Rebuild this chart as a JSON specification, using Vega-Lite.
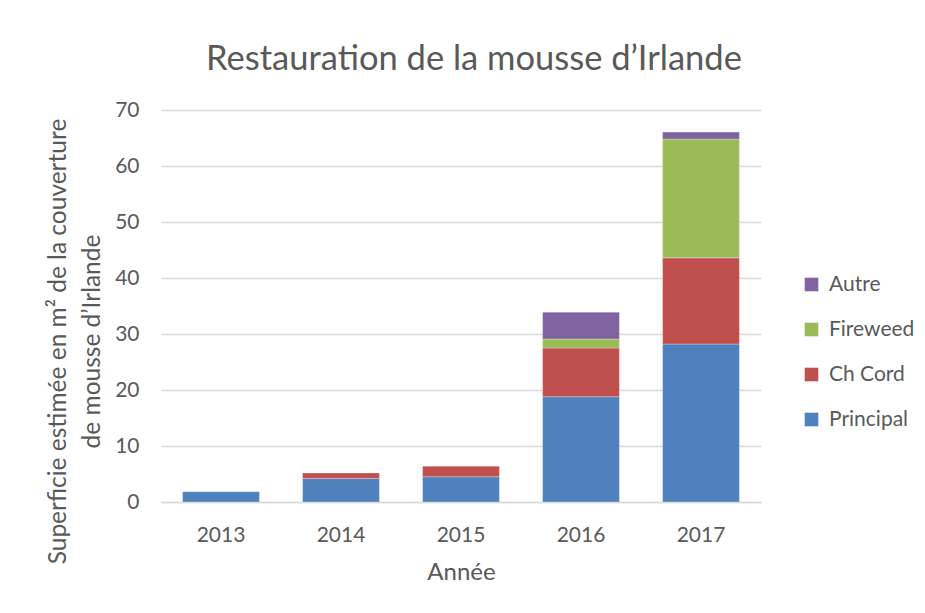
{
  "$schema": "https://vega.github.io/schema/vega-lite/v6.json",
  "autosize": "none",
  "width": 600,
  "height": 392,
  "padding": {"left": 161, "top": 110, "right": 164, "bottom": 111},
  "background": "white",
  "title": {
    "text": "Restauration de la mousse d’Irlande",
    "font": "Lato",
    "fontSize": 34.5,
    "fontWeight": "normal",
    "color": "#595959",
    "anchor": "middle",
    "frame": "group",
    "baseline": "alphabetic",
    "offset": -5,
    "dx": 13
  },
  "data": {
    "values": [
      {"annee": "2013", "serie": "Principal", "valeur": 1.85},
      {"annee": "2014", "serie": "Principal", "valeur": 4.2},
      {"annee": "2014", "serie": "Ch Cord", "valeur": 1.0},
      {"annee": "2015", "serie": "Principal", "valeur": 4.5},
      {"annee": "2015", "serie": "Ch Cord", "valeur": 1.9},
      {"annee": "2016", "serie": "Principal", "valeur": 18.8},
      {"annee": "2016", "serie": "Ch Cord", "valeur": 8.7},
      {"annee": "2016", "serie": "Fireweed", "valeur": 1.6},
      {"annee": "2016", "serie": "Autre", "valeur": 4.8},
      {"annee": "2017", "serie": "Principal", "valeur": 28.2},
      {"annee": "2017", "serie": "Ch Cord", "valeur": 15.4},
      {"annee": "2017", "serie": "Fireweed", "valeur": 21.2},
      {"annee": "2017", "serie": "Autre", "valeur": 1.25}
    ]
  },
  "transform": [
    {"calculate": "indexof(['Principal','Ch Cord','Fireweed','Autre'], datum.serie)", "as": "rang"}
  ],
  "mark": {"type": "bar", "stroke": "white", "strokeWidth": 0.8, "strokeOpacity": 0.35},
  "encoding": {
    "x": {
      "field": "annee",
      "type": "nominal",
      "scale": {"paddingInner": 0.36, "paddingOuter": 0.18},
      "axis": {
        "title": "Année",
        "labelAngle": 0,
        "ticks": false,
        "labelPadding": 22,
        "domainColor": "#D9D9D9",
        "domainWidth": 1.5,
        "titlePadding": 15,
        "titleFontSize": 24
      }
    },
    "y": {
      "aggregate": "sum",
      "field": "valeur",
      "type": "quantitative",
      "stack": "zero",
      "scale": {"domain": [0, 70]},
      "axis": {
        "values": [0, 10, 20, 30, 40, 50, 60, 70],
        "title": ["Superficie estimée en m² de la couverture", "de mousse d’Irlande"],
        "ticks": false,
        "domain": false,
        "labelPadding": 22,
        "gridColor": "#D9D9D9",
        "gridWidth": 1.3,
        "titleAngle": -90,
        "titleAlign": "center",
        "titleBaseline": "alphabetic",
        "titleX": -96,
        "titleY": 231,
        "titleLineHeight": 34,
        "titleFontSize": 24.5
      }
    },
    "color": {
      "field": "serie",
      "type": "nominal",
      "scale": {
        "domain": ["Principal", "Ch Cord", "Fireweed", "Autre"],
        "range": ["#4F81BD", "#C0504D", "#9BBB59", "#8064A2"]
      },
      "legend": {
        "title": null,
        "values": ["Autre", "Fireweed", "Ch Cord", "Principal"],
        "orient": "none",
        "legendX": 640,
        "legendY": 164,
        "symbolType": "square",
        "symbolSize": 185,
        "symbolStrokeWidth": 0,
        "symbolOpacity": 1,
        "labelFontSize": 21,
        "labelOffset": 7,
        "rowPadding": 23,
        "padding": 0
      }
    },
    "order": {"field": "rang", "type": "quantitative", "sort": "ascending"}
  },
  "config": {
    "font": "Lato",
    "view": {"stroke": null},
    "axis": {
      "labelFont": "Lato",
      "labelFontSize": 21,
      "labelColor": "#595959",
      "titleFont": "Lato",
      "titleFontSize": 22,
      "titleFontWeight": "normal",
      "titleColor": "#595959"
    },
    "legend": {
      "labelFont": "Lato",
      "labelColor": "#595959"
    }
  }
}
